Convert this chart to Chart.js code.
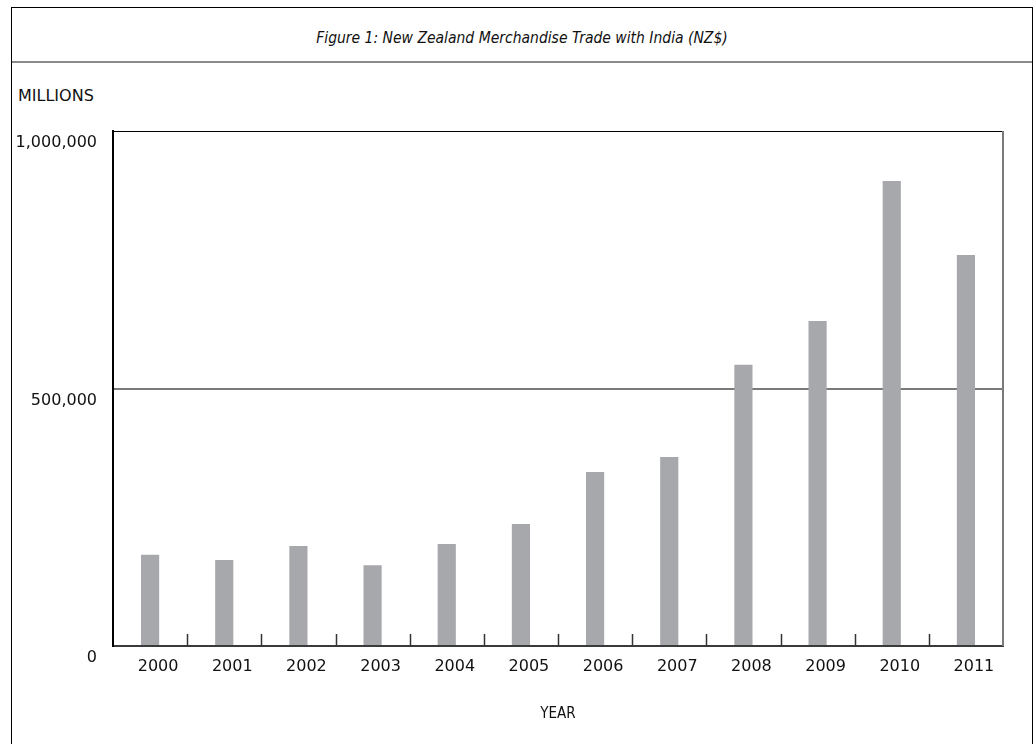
<!DOCTYPE html>
<html>
<head>
<meta charset="utf-8">
<script src="https://cdn.jsdelivr.net/npm/chart.js@4/dist/chart.umd.min.js"></script>
<style>
  body { margin: 0; background: #fff; font-family: "DejaVu Sans", sans-serif; }
  #frame {
    position: absolute; left: 11px; top: 7px; width: 1020px; height: 760px;
    border-left: 1px solid #000; border-right: 1px solid #000; border-top: 1px solid #000;
  }
  #rule { position: absolute; left: 12px; top: 61px; width: 1020px; height: 0; border-top: 2px solid #8a8a8a; }
  #title {
    position: absolute; left: 12px; width: 1020px; top: 29px; text-align: center;
    font-family: "DejaVu Sans Condensed", "DejaVu Sans", sans-serif; font-style: italic; font-size: 15.5px; color: #111;
  }
  #units { position: absolute; left: 18px; top: 86px; font-size: 16px; color: #111; }
  #wrap { position: absolute; left: 0; top: 0; width: 1036px; height: 744px; }
</style>
</head>
<body>
<div id="frame"></div>
<div id="rule"></div>
<div id="title">Figure 1: New Zealand Merchandise Trade with India (NZ$)</div>
<div id="units">MILLIONS</div>
<div id="wrap"><canvas id="chart"></canvas></div>
<script>
const years = ['2000', '2001', '2002', '2003', '2004', '2005', '2006', '2007', '2008', '2009', '2010', '2011'];
const trade = [177000, 167000, 194000, 157000, 198000, 237000, 338000, 367000, 546000, 631000, 903000, 759000];
const yTicks = [0, 500000, 1000000];

// plot box top/right edges and the small marks between years
const plotFrame = {
    id: 'plotFrame',
    afterDatasetsDraw(chart) {
        const { ctx, chartArea: a, scales } = chart;
        ctx.save();
        ctx.strokeStyle = '#000';
        ctx.lineWidth = 1;
        ctx.beginPath();
        ctx.moveTo(a.left, a.top + 0.5);
        ctx.lineTo(a.right, a.top + 0.5);
        ctx.stroke();
        ctx.strokeStyle = '#7a7a7a';
        ctx.lineWidth = 2;
        ctx.beginPath();
        ctx.moveTo(a.right, a.top);
        ctx.lineTo(a.right, a.bottom);
        ctx.stroke();
        ctx.strokeStyle = '#333';
        ctx.lineWidth = 1.5;
        for (let i = 1; i < years.length; i++) {
            const x = Math.round((scales.x.getPixelForValue(i - 1) + scales.x.getPixelForValue(i)) / 2) + 0.5;
            ctx.beginPath();
            ctx.moveTo(x, a.bottom);
            ctx.lineTo(x, a.bottom - 12);
            ctx.stroke();
        }
        ctx.restore();
    }
};

new Chart(document.getElementById('chart'), {
    type: 'bar',
    data: {
        labels: years,
        datasets: [{
            label: 'Trade',
            data: trade,
            backgroundColor: '#a7a8ab',
            barPercentage: 0.245,
            categoryPercentage: 1
        }]
    },
    options: {
        responsive: true,
        maintainAspectRatio: false,
        animation: false,
        layout: { padding: { top: 131, right: 33, left: 0, bottom: 0 } },
        plugins: { legend: { display: false }, tooltip: { enabled: false } },
        scales: {
            x: {
                afterFit: s => { s.height = 98; },
                grid: { display: false, drawTicks: false },
                border: { display: true, color: '#3a3a3a', width: 2 },
                ticks: { padding: 11, labelOffset: 8, color: '#111', font: { family: 'DejaVu Sans', size: 16 } },
                title: {
                    display: true, text: 'YEAR', color: '#111',
                    font: { family: 'DejaVu Sans Condensed', size: 15 },
                    padding: { top: 0, bottom: 21 }
                }
            },
            y: {
                min: 0,
                max: 1000000,
                afterFit: s => { s.width = 113; },
                afterBuildTicks: s => { s.ticks = yTicks.map(v => ({ value: v })); },
                grid: {
                    drawTicks: false,
                    color: c => (c.tick && c.tick.value === 500000 ? '#7a7a7a' : 'transparent'),
                    lineWidth: 2
                },
                border: { display: true, color: '#000', width: 2 },
                ticks: {
                    padding: 16,
                    labelOffset: 12,
                    color: '#111',
                    font: { family: 'DejaVu Sans', size: 16 },
                    callback: v => v.toLocaleString('en-US')
                }
            }
        }
    },
    plugins: [plotFrame]
});
</script>
</body>
</html>
